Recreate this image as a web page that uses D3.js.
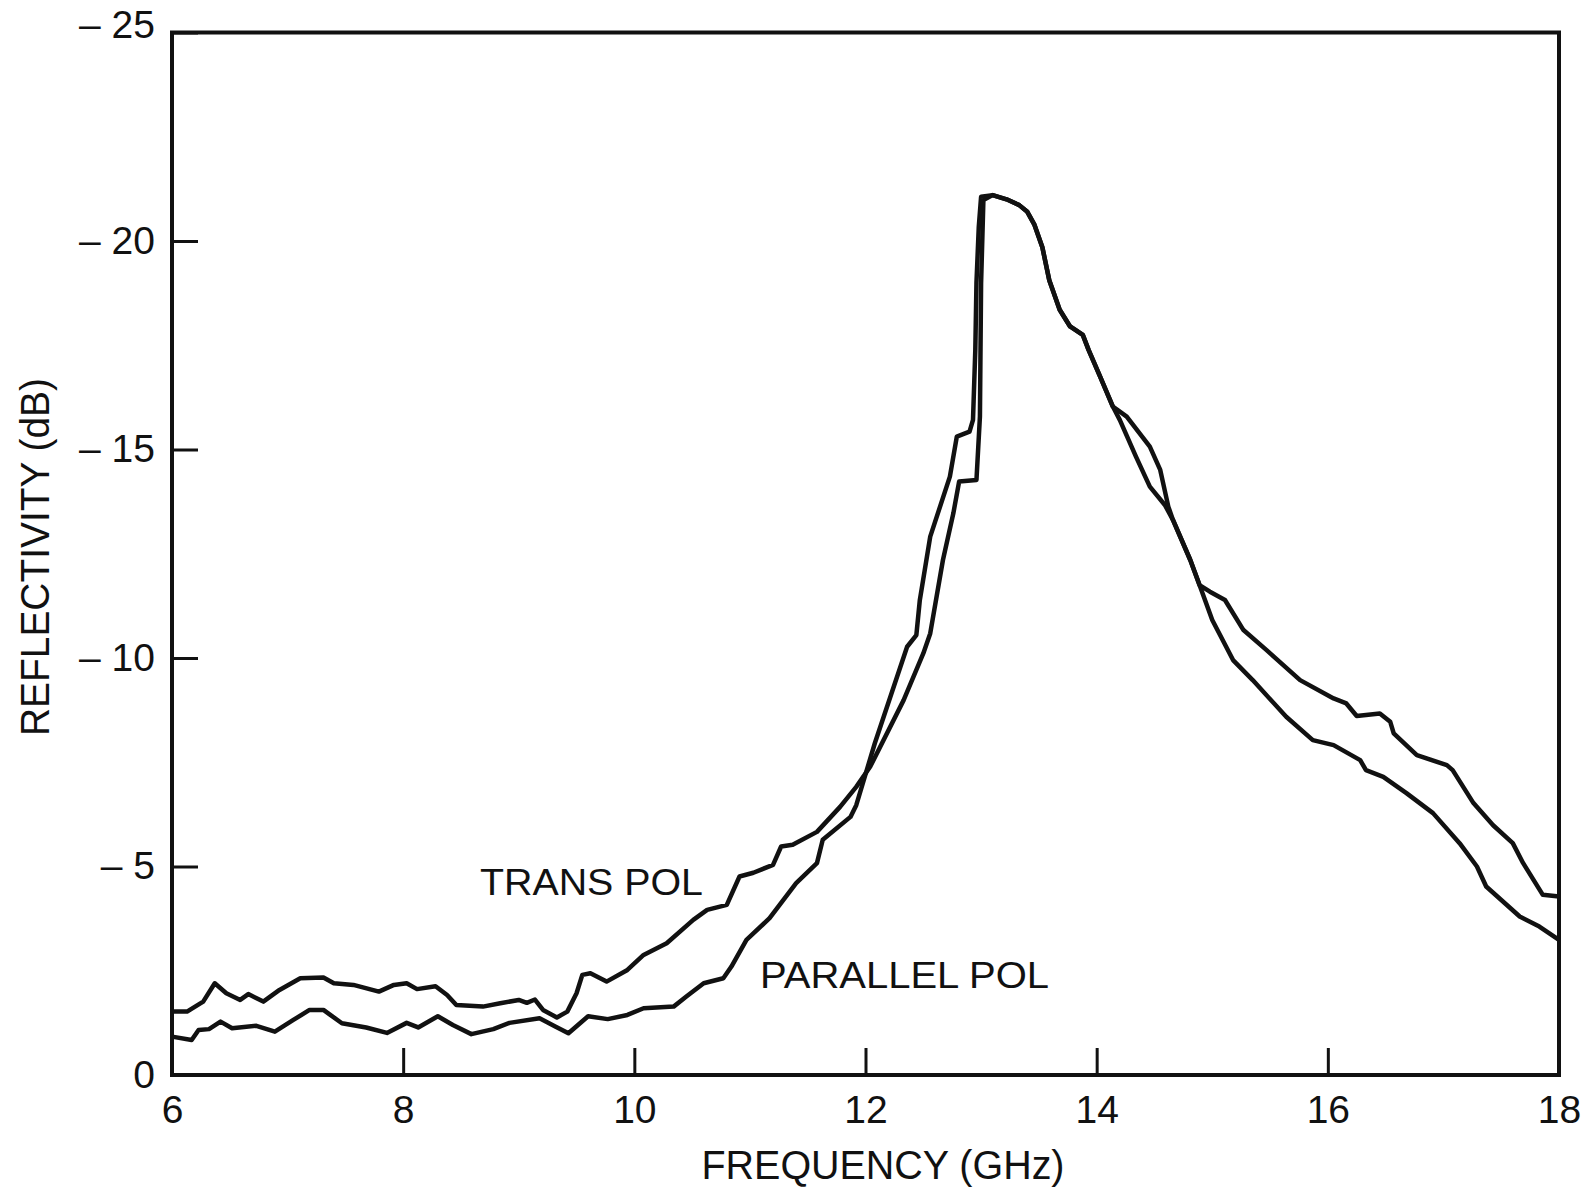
<!DOCTYPE html>
<html>
<head>
<meta charset="utf-8">
<script src="https://cdn.jsdelivr.net/npm/d3@7"></script>
<style>
body { margin: 0; background: #fff; }
text { font-family: "Liberation Sans", Arial, Helvetica, sans-serif; fill: #111; }
</style>
</head>
<body>
<div id="chart"></div>
<script>
// reflectivity, dB vs GHz
var transFreq = [6.00,6.13,6.27,6.37,6.47,6.59,6.66,6.79,6.93,7.11,7.31,7.40,7.57,7.79,7.92,8.03,8.12,8.28,8.38,8.46,
    8.69,8.84,9.00,9.07,9.14,9.21,9.33,9.42,9.50,9.55,9.62,9.76,9.94,10.08,10.28,10.51,10.63,10.80,10.91,11.03,
    11.20,11.27,11.37,11.58,11.78,11.92,12.04,12.33,12.50,12.56,12.67,12.76,12.81,12.96,12.99,13.00,13.02,13.10,13.22,13.33,
    13.40,13.46,13.53,13.59,13.68,13.77,13.88,13.93,14.03,14.14,14.20,14.34,14.46,14.59,14.66,14.81,14.89,14.98,15.11,15.27,15.47,
    15.76,16.05,16.16,16.25,16.45,16.54,16.57,16.77,17.03,17.08,17.26,17.43,17.60,17.69,17.86,18.00];
var transDb = [-1.52,-1.52,-1.76,-2.20,-1.96,-1.80,-1.94,-1.76,-2.04,-2.32,-2.34,-2.20,-2.16,-2.00,-2.16,-2.20,-2.06,-2.13,-1.92,-1.68,
    -1.64,-1.72,-1.80,-1.73,-1.81,-1.56,-1.38,-1.52,-1.96,-2.40,-2.44,-2.24,-2.52,-2.88,-3.16,-3.72,-3.96,-4.08,-4.76,-4.85,
    -5.04,-5.48,-5.52,-5.83,-6.43,-6.91,-7.39,-8.99,-10.11,-10.59,-12.35,-13.47,-14.23,-14.27,-15.79,-18.98,-20.98,-21.10,-21.00,-20.86,
    -20.70,-20.40,-19.85,-19.06,-18.35,-17.95,-17.75,-17.39,-16.75,-16.03,-15.71,-14.83,-14.11,-13.67,-13.31,-12.35,-11.75,-11.59,-11.39,-10.67,-10.19,
    -9.47,-9.03,-8.91,-8.61,-8.67,-8.47,-8.19,-7.67,-7.43,-7.31,-6.52,-5.99,-5.56,-5.08,-4.32,-4.28];

var parFreq = [6.00,6.17,6.23,6.32,6.42,6.52,6.73,6.89,7.05,7.19,7.31,7.47,7.68,7.86,8.03,8.13,8.30,8.43,8.59,8.78,
    8.92,9.18,9.32,9.43,9.60,9.77,9.94,10.08,10.34,10.45,10.60,10.77,10.84,10.97,11.17,11.40,11.58,11.63,11.87,11.92,
    12.08,12.36,12.44,12.47,12.56,12.73,12.79,12.90,12.93,12.95,12.96,12.98,13.00,13.10,13.22,13.33,13.40,13.46,13.53,13.59,13.68,
    13.77,13.88,13.93,14.03,14.14,14.26,14.46,14.55,14.62,14.66,14.81,14.89,15.00,15.18,15.35,15.64,15.87,16.05,16.28,16.33,
    16.48,16.68,16.91,17.14,17.29,17.37,17.66,17.83,18.00];
var parDb = [-0.92,-0.84,-1.08,-1.10,-1.28,-1.12,-1.18,-1.04,-1.32,-1.56,-1.56,-1.24,-1.14,-1.01,-1.25,-1.14,-1.41,-1.20,-0.98,-1.10,
    -1.25,-1.36,-1.16,-1.00,-1.41,-1.34,-1.44,-1.60,-1.64,-1.88,-2.20,-2.32,-2.60,-3.24,-3.76,-4.60,-5.08,-5.64,-6.19,-6.47,
    -7.95,-10.27,-10.55,-11.39,-12.91,-14.35,-15.31,-15.43,-15.71,-17.39,-19.00,-20.34,-21.06,-21.10,-21.00,-20.86,-20.70,-20.40,-19.85,-19.06,-18.35,
    -17.95,-17.75,-17.39,-16.75,-16.03,-15.79,-15.07,-14.51,-13.63,-13.31,-12.35,-11.75,-10.91,-9.95,-9.47,-8.59,-8.03,-7.91,-7.55,-7.31,
    -7.15,-6.76,-6.28,-5.56,-5.00,-4.52,-3.80,-3.56,-3.24];

var freqTicks = [6, 8, 10, 12, 14, 16, 18];
var dbTicks = [0, -5, -10, -15, -20, -25];

function init()
{
    const W = 1590;
    const H = 1188;
    var margin = {left: 172, top: 32.5, right: 31, bottom: 113};
    var w = W - margin.left - margin.right;
    var h = H - margin.top - margin.bottom;

    var svg = d3.select("#chart")
        .append("svg")
        .attr("width", W)
        .attr("height", H);

    var g = svg.append("g")
        .attr("transform", "translate(" + margin.left + "," + margin.top + ")");

    var x = d3.scaleLinear().domain([6, 18]).range([0, w]);
    var y = d3.scaleLinear().domain([0, -25]).range([h, 0]);

    // x axis, ticks pointing up into the plot
    var xAxis = g.append("g")
        .attr("transform", "translate(0," + h + ")")
        .call(d3.axisBottom(x).tickValues(freqTicks).tickSizeInner(-27).tickSizeOuter(0).tickPadding(20));
    xAxis.select(".domain").remove();
    xAxis.selectAll("line").attr("stroke", "#111").attr("stroke-width", 3);
    xAxis.selectAll("text").attr("font-size", 39).attr("fill", "#111");

    var yAxis = g.append("g")
        .call(d3.axisLeft(y).tickValues(dbTicks).tickSizeInner(-26).tickSizeOuter(0).tickPadding(17)
            .tickFormat(function(d){ return d === 0 ? "0" : "\u2013 " + (-d); }));
    yAxis.select(".domain").remove();
    yAxis.selectAll("line").attr("stroke", "#111").attr("stroke-width", 3);
    yAxis.selectAll("text").attr("font-size", 39).attr("fill", "#111");
    // top label sits a little above the frame
    yAxis.selectAll(".tick text").filter(function(d){ return d === -25; }).attr("y", -7);

    // frame
    g.append("rect")
        .attr("x", 0).attr("y", 0)
        .attr("width", w).attr("height", h)
        .attr("fill", "none")
        .attr("stroke", "#111")
        .attr("stroke-width", 4);

    var line = d3.line()
        .x(function(d){ return x(d[0]); })
        .y(function(d){ return y(d[1]); });

    var series = [
        d3.zip(transFreq, transDb),
        d3.zip(parFreq, parDb)
    ];

    g.selectAll("path.curve")
        .data(series)
        .enter()
        .append("path")
        .attr("class", "curve")
        .attr("d", line)
        .attr("fill", "none")
        .attr("stroke", "#111")
        .attr("stroke-width", 4.5)
        .attr("stroke-linejoin", "round");

    svg.append("text")
        .attr("x", 480).attr("y", 895)
        .attr("font-size", 37)
        .attr("textLength", 223)
        .attr("lengthAdjust", "spacingAndGlyphs")
        .text("TRANS POL");

    svg.append("text")
        .attr("x", 760).attr("y", 988)
        .attr("font-size", 37)
        .attr("textLength", 289)
        .attr("lengthAdjust", "spacingAndGlyphs")
        .text("PARALLEL POL");

    svg.append("text")
        .attr("x", 883).attr("y", 1179)
        .attr("text-anchor", "middle")
        .attr("font-size", 40)
        .attr("textLength", 363)
        .attr("lengthAdjust", "spacingAndGlyphs")
        .text("FREQUENCY (GHz)");

    svg.append("text")
        .attr("transform", "translate(49,557) rotate(-90)")
        .attr("text-anchor", "middle")
        .attr("font-size", 40)
        .attr("textLength", 358)
        .attr("lengthAdjust", "spacingAndGlyphs")
        .text("REFLECTIVITY (dB)");
}

init();
</script>
</body>
</html>
